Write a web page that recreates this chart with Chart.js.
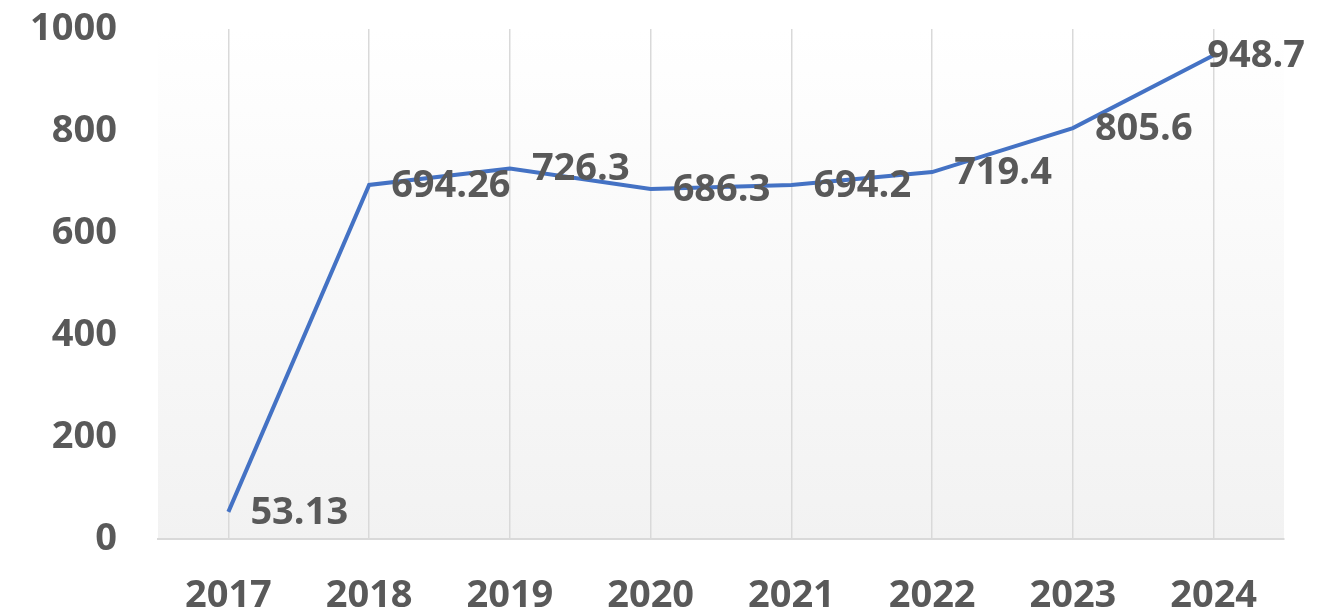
<!DOCTYPE html>
<html><head><meta charset="utf-8">
<script src="https://cdn.jsdelivr.net/npm/chart.js@4"></script>
<style>html,body{margin:0;padding:0;background:#fff;overflow:hidden}#wrap{width:1341px;height:612px;position:relative}</style>
</head><body><div id="wrap"><canvas id="c"></canvas></div>
<script>
const categories = ['2017','2018','2019','2020','2021','2022','2023','2024'];
const values = [53.13, 694.26, 726.3, 686.3, 694.2, 719.4, 805.6, 948.7];
const valueLabels = ['53.13','694.26','726.3','686.3','694.2','719.4','805.6','948.7'];
const yMin = 0, yMax = 1000, yStep = 200;

const FONT_FAMILY = '"Open Sans", Lato, sans-serif';
const FONT_SIZE = 38;
const TEXT_COLOR = '#595959';

const bgPlugin = {
  id: 'bg',
  beforeDraw(chart) {
    const {ctx, chartArea: a} = chart;
    const g = ctx.createLinearGradient(0, a.top, 0, a.bottom);
    g.addColorStop(0, '#ffffff');
    g.addColorStop(1, '#f2f2f2');
    ctx.save();
    ctx.fillStyle = g;
    ctx.fillRect(a.left, a.top, a.right - a.left, a.bottom - a.top);
    ctx.restore();
  }
};

const labelPlugin = {
  id: 'vlabels',
  afterDatasetsDraw(chart) {
    const {ctx} = chart;
    const meta = chart.getDatasetMeta(0);
    ctx.save();
    ctx.font = 'bold ' + FONT_SIZE + 'px ' + FONT_FAMILY;
    ctx.fillStyle = TEXT_COLOR;
    ctx.textBaseline = 'middle';
    ctx.textAlign = 'left';
    meta.data.forEach((pt, i) => {
      const txt = valueLabels[i];
      const w = ctx.measureText(txt).width;
      const x = Math.min(pt.x + 22, chart.width - 36 - w);
      ctx.fillText(txt, x, pt.y + 1);
    });
    ctx.restore();
  }
};

new Chart(document.getElementById('c'), {
  type: 'line',
  data: {
    labels: categories,
    datasets: [{
      data: values,
      borderColor: '#4472c4',
      borderWidth: 4,
      pointRadius: 0,
      tension: 0,
      fill: false
    }]
  },
  options: {
    responsive: true,
    maintainAspectRatio: false,
    animation: false,
    layout: {padding: {top: 29, right: 57, left: 0, bottom: 0}},
    plugins: {legend: {display: false}, tooltip: {enabled: false}},
    scales: {
      x: {
        offset: true,
        grid: {display: true, offset: false, color: '#d9d9d9', lineWidth: 1.5, drawTicks: false},
        border: {display: true, color: '#d9d9d9', width: 2},
        ticks: {font: {family: FONT_FAMILY, size: FONT_SIZE, weight: 'bold'}, color: TEXT_COLOR, padding: 34, maxRotation: 0},
        afterFit: s => { s.height = 73; s.paddingLeft = 0; s.paddingRight = 0; }
      },
      y: {
        min: yMin, max: yMax,
        grid: {display: false, drawTicks: false},
        border: {display: false},
        ticks: {stepSize: yStep, font: {family: FONT_FAMILY, size: FONT_SIZE, weight: 'bold'}, color: TEXT_COLOR, padding: 41,
          callback: v => String(v)},
        afterFit: s => { s.width = 158; s.paddingTop = 0; s.paddingBottom = 0; }
      }
    }
  },
  plugins: [bgPlugin, labelPlugin]
});
</script>
</body></html>
